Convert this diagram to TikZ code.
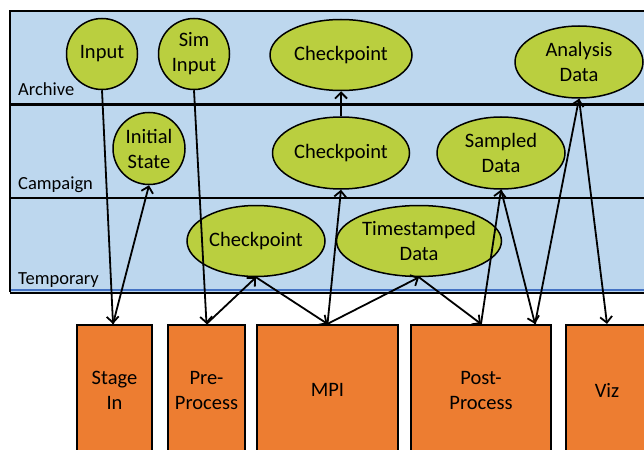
\documentclass[tikz,border=0pt]{standalone}
\usepackage{fontspec}
\setmainfont{Carlito}
\usetikzlibrary{shapes.geometric,arrows.meta}
\definecolor{bandblue}{RGB}{189,215,238}
\definecolor{edgeblue}{RGB}{68,114,196}
\definecolor{lime}{RGB}{186,207,63}
\definecolor{procorange}{RGB}{237,125,49}
\tikzset{
  store/.style={ellipse,draw=black,line width=1.5pt,fill=lime,inner sep=0pt,align=center,
    font=\fontsize{20.5}{25}\selectfont},
  proc/.style={rectangle,draw=black,line width=2.2pt,fill=procorange,inner sep=0pt,align=center,
    minimum height=130pt,font=\fontsize{20.5}{25}\selectfont},
  tier/.style={anchor=base west,inner sep=0pt,font=\fontsize{18.5}{21}\selectfont},
  flow/.style={line width=1.8pt,-{Straight Barb[length=6pt,width=12pt,line width=1.8pt]}},
}
\begin{document}
\begin{tikzpicture}[x=1pt,y=-1pt]
\useasboundingbox (0,0) rectangle (644,449);
% storage tiers
\fill[bandblue] (10,11) rectangle (660,292);
\draw[edgeblue,line width=1.2pt] (11,290) -- (660,290);
\draw[line width=2pt] (10,292) -- (10,11) -- (660,11);
\draw[line width=2pt] (10,292.5) -- (660,292.5);
\draw[line width=3pt] (10,104.5) -- (660,104.5);
\draw[line width=2pt] (10,198) -- (660,198);
\node[tier] (larch) at (18,96) {Archive};
\node[tier] (lcamp) at (18,189.5) {Campaign};
\node[tier] (ltemp) at (18,284.5) {Temporary};
% data stores
\node[store,minimum width=71pt,minimum height=71pt] (input) at (102,54) {Input};
\node[store,minimum width=71pt,minimum height=71pt] (siminput) at (194,54) {Sim\\Input};
\node[store,minimum width=72pt,minimum height=72pt] (initial) at (149,148.5) {Initial\\State};
\node[store,minimum width=142pt,minimum height=71pt] (ckA) at (341,55) {Checkpoint};
\node[store,minimum width=137pt,minimum height=72pt] (ckC) at (341,153) {Checkpoint};
\node[store,minimum width=138pt,minimum height=71pt] (ckT) at (256,241) {Checkpoint};
\node[store,minimum width=165pt,minimum height=71pt] (ts) at (419,241) {Timestamped\\Data};
\node[store,minimum width=128pt,minimum height=72pt] (sampled) at (501,153) {Sampled\\Data};
\node[store,minimum width=128pt,minimum height=72pt] (analysis) at (579,62) {Analysis\\Data};
% processes
\node[proc,minimum width=75pt] (stagein) at (114.5,390) {Stage\\In};
\node[proc,minimum width=77pt] (preproc) at (206.5,390) {Pre-\\Process};
\node[proc,minimum width=141pt] (mpi) at (327.5,390) {MPI};
\node[proc,minimum width=140pt] (postproc) at (481,390) {Post-\\Process};
\node[proc,minimum width=82pt] (viz) at (607,390) {Viz};
\coordinate (postB) at ([xshift=54pt]postproc.north);
% data flows
\draw[flow] (input.south) -- ([xshift=-1.5pt]stagein.north);
\draw[flow] ([xshift=-1.5pt]stagein.north) -- (initial.south);
\draw[flow] (siminput.south) -- (preproc.north);
\draw[flow] (preproc.north) -- (ckT.south);
\draw[flow] (ckT.south) -- (mpi.north);
\draw[flow] (mpi.north) -- (ts.south);
\draw[flow] (mpi.north) -- (ckC.south);
\draw[flow] (ckC.north) -- (ckA.south);
\draw[flow] (ts.south) -- (postproc.north);
\draw[flow] (postproc.north) -- (sampled.south);
\draw[flow] (sampled.south) -- (postB);
\draw[flow] (postB) -- (analysis.south);
\draw[flow] (analysis.south) -- (viz.north);
\end{tikzpicture}
\end{document}
